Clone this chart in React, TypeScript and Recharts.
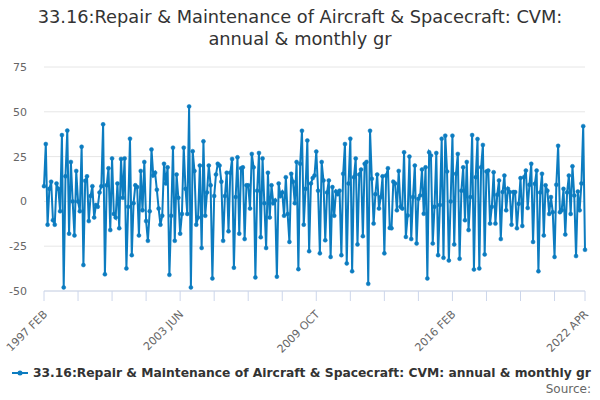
import React from "react";
import { LineChart, Line, XAxis, YAxis, CartesianGrid } from "recharts";

const SERIES_NAME = "33.16:Repair & Maintenance of Aircraft & Spacecraft: CVM: annual & monthly gr";
const START_YEAR = 1997;
const START_MONTH = 1; // FEB (0-based)
const MONTHS = ["JAN", "FEB", "MAR", "APR", "MAY", "JUN", "JUL", "AUG", "SEP", "OCT", "NOV", "DEC"];

const values: number[] = [
  8.5, 32, -13, 7, 11, -10.5, -13, 10, 7, -5.5,
  37, -48, 14, 39.5, -18, 22, 0, -19, 17, 0,
  -5.5, 30.5, -35.5, 11.5, 14, -11, 3, 8.5, -9, -2,
  -3, 5, 8.5, 43, -40.7, 9, 18.5, -16, 24, -7,
  -9, 10, -15, 23.7, 2, 24, -37.4, -3, 35, -30,
  -1, 9, 8, -19, 17, -5, 22, -11, -22, -5.5,
  29, 14.5, 16, 6.5, -4, -13, -8, 21, 10, 19,
  -41, -8, 30, -22, 15, 2, -18, -7, 30, 7,
  -7, 53, -48, 28, 17, -13, -9, 20, -26, 33.5,
  -8, 5, 20, 9, -43, 3, 15, 21, 20, 11,
  -22, 3, 16, -16.7, 16, 23.7, -37, 2.4, 24.6, -18,
  18.5, 19, -21, 9, 9, -4, 26.5, 19, -42.4, 6,
  27, -20, 24, -1, -26, 16, -9, 9, -1, 0.5,
  -42, 10, 3, 5, -8, 13.5, -7, -22.6, 15.4, 11,
  -1, 22, -37.8, 21, 39.4, -13, 7, 34, -27.8, 10,
  13, 14.4, 27.8, 6, -29, 22, 11.7, -21.7, 5, 11.7,
  -31, 8, -8, 5.5, 4, 6, -30, 15.4, 32, -34.6,
  10, 35, -39, 13.5, 24, -24, 15, 17.8, -19.4, 21,
  22, -46, 39.4, 12.6, -12.4, 4, 15, -4, 2.4, 14,
  -29, 14.4, 18.5, -14.8, -15, 11, 10, -5, 17, -3,
  -4, 27.4, -19.8, -7.8, 25, -21, 2.4, 20, -23.5, 1.5,
  3.3, 17.8, -6.9, 19, -43, 27.4, 25.6, -23.5, -3, 27,
  -30, -2, 35, -31.5, 36.7, 16.7, -33, 0, 36.7, -24,
  15.4, 26.5, -32, 6, 19, -10.5, 22, -16, 2.4, 37,
  -38, 13.5, 34.8, -37.4, 19, 31.5, -29.6, 16.7, 17.2, -12.4,
  -3, 16.3, -12.4, 3.7, 11.7, -21, 5.2, 14.4, -5, 7,
  5.2, -13, 5.2, 5.2, -15, -1.3, 13, -13.7, 13.5, 17.2,
  -3.7, 9.3, 21, -22.6, 9.8, 17.2, -39, 5, 15.4, -19,
  9, 6, -7, 2.4, -6, -31, 9.3, 31, -6, -5,
  7, -18.5, 5, 14.4, -7, 19.6, 3.3, -30.5, 5.5, -5,
  10, 42, -27,
];

const categories: string[] = values.map((_, i) => {
  const m = START_MONTH + i;
  return `${START_YEAR + Math.floor(m / 12)} ${MONTHS[m % 12]}`;
});

const labeledTicks = ["1997 FEB", "2003 JUN", "2009 OCT", "2016 FEB", "2022 APR"];
const tickStep = 19;
const tickIndices: number[] = [];
for (let i = 0; i < values.length - 1; i += tickStep) tickIndices.push(i);
tickIndices.push(values.length - 1);

const yTicks = [-50, -25, 0, 25, 50, 75];

const data = values.map((v, i) => ({ idx: i, month: categories[i], value: v }));

const COLOR = "#0c7cc0";
const FONT = "'DejaVu Sans', sans-serif";

const XTick = (props: any) => {
  const { x, y, payload } = props;
  const label = categories[payload.value];
  if (!labeledTicks.includes(label)) return <g />;
  return (
    <g transform={`translate(${x + 4},${y + 12})`}>
      <text
        x={0}
        y={0}
        textAnchor="end"
        transform="rotate(-45)"
        fill="#666666"
        fontSize={11}
        fontFamily={FONT}
      >
        {label}
      </text>
    </g>
  );
};

export default function App() {
  return (
    <div style={{ position: "relative", width: 600, height: 400, background: "#fff", overflow: "hidden" }}>
      <style>{`body{margin:0}`}</style>
      <div
        style={{
          position: "absolute",
          left: 0,
          top: 6,
          width: 600,
          textAlign: "center",
          fontFamily: FONT,
          fontSize: 17.8,
          lineHeight: "22px",
          color: "#333333",
        }}
      >
        33.16:Repair &amp; Maintenance of Aircraft &amp; Spacecraft: CVM:
        <br />
        annual &amp; monthly gr
      </div>
      <div style={{ position: "absolute", left: 0, top: 0 }}>
        <LineChart
          width={600}
          height={400}
          data={data}
          margin={{ top: 67, right: 15, bottom: 49, left: 0 }}
        >
          <CartesianGrid horizontal vertical={false} stroke="#e6e6e6" />
          <XAxis
            dataKey="idx"
            type="number"
            domain={[0, values.length - 1]}
            ticks={tickIndices}
            interval={0}
            height={60}
            stroke="#ccd6eb"
            tickLine={{ stroke: "#ccd6eb" }}
            tickSize={10}
            tick={<XTick />}
          />
          <YAxis
            domain={[-50, 75]}
            ticks={yTicks}
            width={44}
            axisLine={false}
            tickLine={false}
            tickSize={0}
            tickMargin={17}
            interval={0}
            tick={{ fill: "#666666", fontSize: 11, fontFamily: FONT }}
          />
          <Line
            type="linear"
            dataKey="value"
            stroke={COLOR}
            strokeWidth={2}
            dot={{ r: 2, fill: COLOR, stroke: COLOR, strokeWidth: 0.5 }}
            isAnimationActive={false}
          />
        </LineChart>
      </div>
      <div
        style={{
          position: "absolute",
          left: 12,
          top: 366,
          display: "flex",
          alignItems: "center",
          whiteSpace: "nowrap",
          fontFamily: FONT,
          fontSize: 12.3,
          fontWeight: "bold",
          color: "#333333",
        }}
      >
        <svg width={16} height={12} style={{ marginRight: 5 }}>
          <line x1={0} y1={6} x2={16} y2={6} stroke={COLOR} strokeWidth={2} />
          <circle cx={8} cy={6} r={2.5} fill={COLOR} />
        </svg>
        <span>{SERIES_NAME}</span>
      </div>
      <div
        style={{
          position: "absolute",
          right: 9,
          top: 382,
          fontFamily: FONT,
          fontSize: 12,
          color: "#666666",
        }}
      >
        Source:
      </div>
    </div>
  );
}
